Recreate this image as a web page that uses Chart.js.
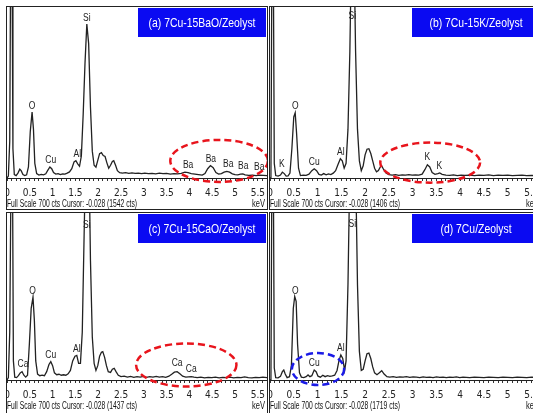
<!DOCTYPE html>
<html>
<head>
<meta charset="utf-8">
<script src="https://cdn.jsdelivr.net/npm/chart.js@4.4.1/dist/chart.umd.min.js"></script>
<style>
  html, body { margin: 0; padding: 0; background: #fff; width: 533px; height: 413px; overflow: hidden; }
  .panel { position: absolute; border: 1px solid #222; overflow: hidden; background: #fff; }
  .panel canvas { position: absolute; left: 0; top: 0; }
</style>
</head>
<body>
<div class="panel" style="left:6px;top:6px;width:260px;height:202px"><canvas id="chart-a" width="260" height="202"></canvas></div>
<div class="panel" style="left:269px;top:6px;width:271px;height:202px"><canvas id="chart-b" width="271" height="202"></canvas></div>
<div class="panel" style="left:6px;top:212px;width:260px;height:202px"><canvas id="chart-c" width="260" height="202"></canvas></div>
<div class="panel" style="left:269px;top:212px;width:271px;height:202px"><canvas id="chart-d" width="271" height="202"></canvas></div>
<script>
// spectra: [keV, counts]
const specA = [[0,0],[0.03,8],[0.06,150],[0.08,900],[0.11,900],[0.13,120],[0.16,14],[0.2,10],[0.24,20],[0.28,36],[0.31,30],[0.35,14],[0.39,10],[0.43,13],[0.47,45],[0.51,190],[0.55,270],[0.58,200],[0.61,60],[0.65,18],[0.7,12],[0.75,15],[0.8,13],[0.85,17],[0.89,30],[0.94,45],[0.98,38],[1.02,22],[1.07,16],[1.12,18],[1.17,14],[1.22,17],[1.27,16],[1.32,20],[1.37,25],[1.42,38],[1.47,66],[1.51,71],[1.55,58],[1.59,48],[1.63,90],[1.67,260],[1.71,470],[1.75,630],[1.79,550],[1.83,290],[1.87,110],[1.91,52],[1.95,44],[1.99,72],[2.03,100],[2.07,104],[2.11,92],[2.15,88],[2.19,62],[2.23,40],[2.27,52],[2.31,68],[2.34,71],[2.38,52],[2.42,30],[2.47,22],[2.53,20],[2.6,22],[2.67,19],[2.74,21],[2.81,19],[2.88,20],[2.95,18],[3.02,20],[3.1,18],[3.18,19],[3.26,17],[3.34,20],[3.42,18],[3.5,19],[3.58,16],[3.66,18],[3.74,17],[3.82,19],[3.9,24],[3.97,22],[4.04,18],[4.12,16],[4.2,14],[4.28,12],[4.34,18],[4.4,38],[4.46,51],[4.52,42],[4.58,22],[4.64,16],[4.7,18],[4.76,24],[4.82,27],[4.88,24],[4.94,17],[5.0,14],[5.06,13],[5.12,16],[5.17,17],[5.22,13],[5.3,11],[5.38,12],[5.46,10],[5.54,12],[5.62,11],[5.7,10]];
const specB = [[0,0],[0.02,10],[0.04,900],[0.07,900],[0.09,60],[0.12,10],[0.17,8],[0.22,12],[0.26,24],[0.3,18],[0.34,8],[0.38,9],[0.42,20],[0.46,120],[0.5,250],[0.53,267],[0.56,180],[0.6,40],[0.64,10],[0.7,12],[0.76,11],[0.82,16],[0.88,30],[0.93,38],[0.98,30],[1.03,15],[1.08,12],[1.13,18],[1.18,13],[1.23,17],[1.28,14],[1.33,20],[1.38,30],[1.43,55],[1.48,79],[1.52,70],[1.56,40],[1.6,60],[1.64,200],[1.68,520],[1.71,900],[1.77,900],[1.8,520],[1.84,200],[1.88,70],[1.92,30],[1.96,50],[2.0,95],[2.04,118],[2.08,120],[2.12,100],[2.16,70],[2.2,40],[2.24,25],[2.28,30],[2.32,45],[2.35,49],[2.39,35],[2.44,20],[2.5,14],[2.57,12],[2.64,14],[2.71,11],[2.78,13],[2.85,12],[2.92,14],[2.99,12],[3.06,13],[3.13,12],[3.2,16],[3.26,35],[3.31,54],[3.36,45],[3.41,22],[3.47,15],[3.53,18],[3.57,21],[3.62,15],[3.7,12],[3.78,11],[3.86,13],[3.94,10],[4.02,12],[4.1,11],[4.2,12],[4.3,10],[4.4,12],[4.5,11],[4.6,13],[4.7,10],[4.8,12],[4.9,11],[5.0,12],[5.1,10],[5.2,11],[5.3,12],[5.4,10],[5.5,11],[5.6,10],[5.7,11]];
const specC = [[0,0],[0.03,10],[0.06,200],[0.09,900],[0.12,900],[0.14,80],[0.17,12],[0.21,10],[0.25,18],[0.29,30],[0.33,35],[0.37,20],[0.41,12],[0.45,20],[0.49,150],[0.53,300],[0.57,347],[0.6,250],[0.63,80],[0.67,25],[0.72,18],[0.77,20],[0.82,18],[0.87,35],[0.92,65],[0.96,77],[1.0,60],[1.04,30],[1.09,22],[1.14,24],[1.19,20],[1.24,22],[1.29,20],[1.34,26],[1.39,40],[1.44,80],[1.49,100],[1.53,103],[1.57,70],[1.61,70],[1.65,200],[1.69,600],[1.72,900],[1.8,900],[1.83,500],[1.87,180],[1.91,70],[1.95,40],[1.99,60],[2.03,100],[2.07,116],[2.1,119],[2.14,95],[2.18,60],[2.22,35],[2.27,32],[2.31,45],[2.35,49],[2.39,35],[2.44,20],[2.5,14],[2.57,16],[2.64,12],[2.71,15],[2.78,11],[2.85,14],[2.92,12],[2.99,15],[3.06,11],[3.13,14],[3.2,12],[3.27,15],[3.34,12],[3.41,14],[3.48,11],[3.55,16],[3.61,24],[3.67,33],[3.73,35],[3.79,26],[3.85,16],[3.92,12],[3.98,13],[4.04,14],[4.1,12],[4.17,10],[4.25,12],[4.33,9],[4.41,11],[4.49,10],[4.57,12],[4.65,9],[4.73,11],[4.81,10],[4.89,12],[4.97,9],[5.05,11],[5.13,10],[5.21,13],[5.29,10],[5.37,9],[5.45,11],[5.53,10],[5.61,12],[5.7,10]];
const specD = [[0,0],[0.02,10],[0.04,900],[0.07,900],[0.09,50],[0.12,10],[0.17,9],[0.22,15],[0.26,35],[0.29,42],[0.32,25],[0.36,10],[0.41,14],[0.45,60],[0.49,300],[0.52,350],[0.55,330],[0.58,150],[0.62,30],[0.66,12],[0.71,10],[0.76,14],[0.8,21],[0.84,14],[0.88,18],[0.93,42],[0.97,35],[1.01,16],[1.06,12],[1.11,20],[1.16,14],[1.21,18],[1.26,15],[1.31,17],[1.36,20],[1.41,40],[1.45,80],[1.49,105],[1.53,90],[1.57,40],[1.6,80],[1.64,400],[1.68,900],[1.8,900],[1.84,400],[1.88,120],[1.92,40],[1.96,45],[2.0,80],[2.04,110],[2.08,113],[2.12,90],[2.16,55],[2.2,30],[2.25,22],[2.3,30],[2.35,39],[2.4,25],[2.46,14],[2.52,12],[2.59,14],[2.66,11],[2.73,13],[2.8,12],[2.87,14],[2.94,11],[3.01,13],[3.08,12],[3.15,10],[3.22,13],[3.29,11],[3.36,12],[3.43,10],[3.5,13],[3.57,11],[3.64,12],[3.71,10],[3.78,12],[3.85,11],[3.92,13],[3.99,10],[4.06,12],[4.13,11],[4.2,10],[4.3,12],[4.4,11],[4.5,10],[4.6,12],[4.7,11],[4.8,10],[4.9,12],[5.0,11],[5.1,10],[5.2,12],[5.3,11],[5.4,10],[5.5,12],[5.6,11],[5.7,10]];

// peak labels: [element, keV, counts]
const peaksA = [['Si',1.75,655],['O',0.55,292],['Cu',0.96,74],['Al',1.54,99],['Ba',3.97,54],['Ba',4.47,78],['Ba',4.85,58],['Ba',5.18,49],['Ba',5.53,45]];
const peaksB = [['Si',1.73,661],['O',0.53,295],['K',0.25,56],['Cu',0.93,64],['Al',1.49,105],['K',3.31,84],['K',3.56,47]];
const peaksC = [['Si',1.75,649],['O',0.56,373],['Ca',0.35,67],['Cu',0.96,105],['Al',1.53,130],['Ca',3.73,71],['Ca',4.04,46]];
const peaksD = [['Si',1.73,654],['O',0.53,373],['Cu',0.93,71],['Al',1.49,134]];

const titles = ['(a) 7Cu-15BaO/Zeolyst', '(b) 7Cu-15K/Zeolyst', '(c) 7Cu-15CaO/Zeolyst', '(d) 7Cu/Zeolyst'];
const totals = [1542, 1406, 1437, 1719];

const NARROW = "'Liberation Sans Narrow', 'Arial Narrow', 'DejaVu Sans Condensed', Arial, sans-serif";
const SANS = "'Liberation Sans', Arial, Helvetica, sans-serif";

// draw text squeezed horizontally like the instrument print-out
function squeezed(ctx, text, x, y, k) {
  const w = ctx.measureText(text).width;
  ctx.fillText(text, x, y, w * k);
}

const spectrumDecor = {
  id: 'spectrumDecor',
  afterDatasetsDraw(chart, args, opts) {
    const { ctx, chartArea, scales: { x, y } } = chart;
    ctx.save();
    // dashed ring
    const r = opts.ring;
    ctx.beginPath();
    ctx.ellipse(x.getPixelForValue(r.kev), y.getPixelForValue(r.cts),
      x.getPixelForValue(r.kev + r.dk) - x.getPixelForValue(r.kev),
      y.getPixelForValue(r.cts) - y.getPixelForValue(r.cts + r.dc), 0, 0, Math.PI * 2);
    ctx.setLineDash([7, 4]);
    ctx.lineWidth = 2.5;
    ctx.strokeStyle = r.color;
    ctx.stroke();
    ctx.setLineDash([]);
    // peak labels
    ctx.fillStyle = '#222';
    ctx.font = '10px ' + SANS;
    ctx.textAlign = 'center';
    ctx.textBaseline = 'middle';
    opts.peaks.forEach(p => {
      squeezed(ctx, p[0], x.getPixelForValue(p[1]), y.getPixelForValue(p[2]), 0.85);
    });
    // title box
    const w = chart.width;
    ctx.fillStyle = '#0a0af2';
    ctx.fillRect(w - 129, 1, 128, 29);
    ctx.fillStyle = '#fff';
    ctx.font = '13px ' + SANS;
    squeezed(ctx, opts.title, w - 65, 16, 0.8);
    // footer
    ctx.fillStyle = '#111';
    ctx.font = '10px ' + SANS;
    ctx.textAlign = 'left';
    const fy = chartArea.bottom + 26;
    ctx.fillText('Full Scale 700 cts Cursor: -0.028 (' + opts.total + ' cts)', 0, fy, 130);
    ctx.textAlign = 'right';
    ctx.fillText('keV', w - 2, fy, 13);
    ctx.restore();
  }
};

function spectrumChart(id, spec, peaks, n, ring, axisH) {
  return new Chart(document.getElementById(id).getContext('2d'), {
    type: 'line',
    data: {
      datasets: [{
        data: spec.map(p => ({ x: p[0], y: p[1] })),
        borderColor: '#222',
        borderWidth: 1.3,
        pointRadius: 0,
        tension: 0
      }]
    },
    options: {
      responsive: false,
      animation: false,
      events: [],
      layout: { padding: 0 },
      plugins: {
        legend: { display: false },
        tooltip: { enabled: false },
        spectrumDecor: { peaks: peaks, title: titles[n], total: totals[n], ring: ring }
      },
      scales: {
        x: {
          type: 'linear',
          min: 0,
          max: 5.7,
          afterFit: (s) => { s.paddingLeft = 0; s.paddingRight = 0; s.height = axisH; },
          border: { display: true, color: '#222', width: 1 },
          grid: { drawOnChartArea: false, tickLength: 3, color: '#333' },
          ticks: {
            stepSize: 0.1,
            autoSkip: false,
            maxRotation: 0,
            minRotation: 0,
            padding: 6,
            color: '#222',
            font: { family: NARROW, size: 10 },
            callback: (v) => { const t = Math.round(v * 10); return t % 5 === 0 ? String(t / 10) : ''; }
          }
        },
        y: { display: false, min: 0, max: 700 }
      }
    },
    plugins: [spectrumDecor]
  });
}

spectrumChart('chart-a', specA, peaksA, 0, { kev: 4.65, cts: 70, dk: 1.07, dc: 86, color: '#e8141c' }, 31);
spectrumChart('chart-b', specB, peaksB, 1, { kev: 3.37, cts: 63, dk: 1.05, dc: 82, color: '#e8141c' }, 31);
spectrumChart('chart-c', specC, peaksC, 2, { kev: 3.93, cts: 63, dk: 1.10, dc: 90, color: '#e8141c' }, 35);
spectrumChart('chart-d', specD, peaksD, 3, { kev: 1.01, cts: 46, dk: 0.55, dc: 67, color: '#1a1ae6' }, 35);
</script>
</body>
</html>
